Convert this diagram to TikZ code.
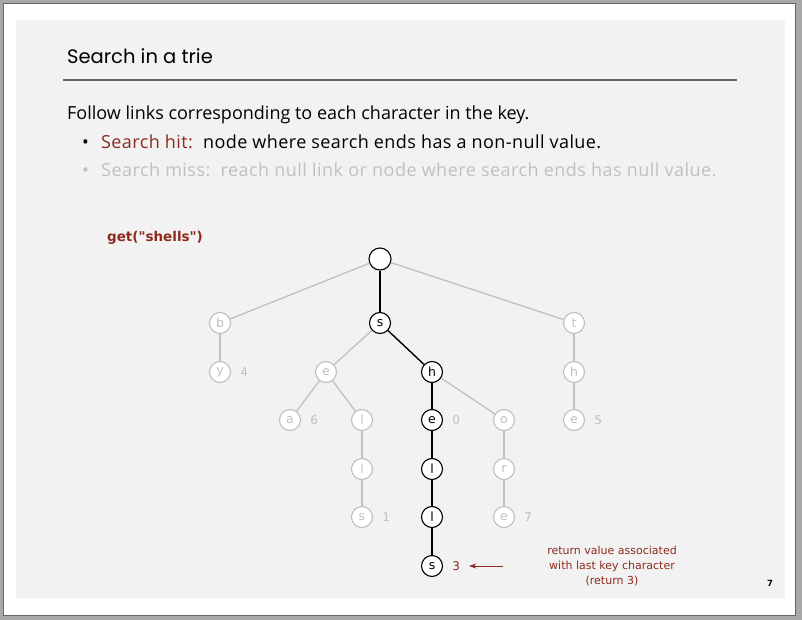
\documentclass[tikz,border=0pt]{standalone}
\usepackage{fontspec}
\setmainfont{Open Sans}
\newfontfamily\titlefont{Poppins}
\newfontfamily\triefont{DejaVu Sans}
\usetikzlibrary{positioning,arrows.meta}
\definecolor{hitred}{RGB}{140,42,30}
\definecolor{missgray}{RGB}{192,192,192}
\definecolor{panelgray}{RGB}{242,242,242}
\definecolor{framegray}{RGB}{168,168,168}

\begin{document}
\begin{tikzpicture}[x=1pt,y=-1pt,
    trie/.style={circle,draw=black,fill=white,line width=1.1pt,inner sep=0pt,minimum size=21pt,font=\triefont\fontsize{12.5}{12}\selectfont},
    miss/.style={trie,draw=missgray,text=missgray},
    missedge/.style={draw=missgray,line width=1.3pt},
    hitedge/.style={draw=black,line width=1.4pt},
    val/.style={inner sep=1pt,font=\triefont\fontsize{12}{12}\selectfont,text=missgray},
    body/.style={anchor=base west,inner sep=0pt,font=\fontsize{18}{20}\selectfont}]
    \fill[framegray] (0,0) rectangle (802,620);
    \filldraw[fill=white,draw=black!60] (3,3) rectangle (795,615);
    \fill[panelgray] (16,20) rectangle (785,598);

    \node[anchor=base west,inner sep=0pt,font=\titlefont\fontsize{19.5}{24}\selectfont] (title) at (67,64) {Search in a trie};
    \draw[black!60,line width=1.5pt] (63,80) -- (737,80);
    \node[body] (line1) at (67,120) {Follow links corresponding to each character in the key.};
    \node[body] (hitdot) at (82,149) {\textbullet};
    \node[body] (hit) at (101,149) {\addfontfeatures{LetterSpace=2.3}{\color{hitred}Search hit:}\ \ node where search ends has a non-null value.};
    \node[body,text=missgray] (missdot) at (82,177) {\textbullet};
    \node[body,text=missgray] (miss) at (101,177) {\addfontfeatures{LetterSpace=2.6}Search miss:\ \ reach null link or node where search ends has null value.};

    \node[font=\triefont\bfseries\fontsize{13.5}{14}\selectfont,text=hitred] (query) at (155,238) {get("shells")};

    \node[trie,minimum size=22pt] (root) at (380,259) {};
    \node[miss] (b) at (220,323) {b};
    \node[trie] (s) at (380,323) {s};
    \node[miss] (t) at (574,323) {t};
    \node[miss] (by) at (220,372) {y};
    \node[miss] (se) at (326,372) {e};
    \node[trie] (sh) at (432,372) {h};
    \node[miss] (th) at (574,372) {h};
    \node[miss] (sea) at (290,420) {a};
    \node[miss] (sel) at (362,420) {l};
    \node[trie] (she) at (432,420) {e};
    \node[miss] (sho) at (504,420) {o};
    \node[miss] (the) at (574,420) {e};
    \node[miss] (sell) at (362,469) {l};
    \node[trie] (shel) at (432,469) {l};
    \node[miss] (shor) at (504,469) {r};
    \node[miss] (sells) at (362,517) {s};
    \node[trie] (shell) at (432,517) {l};
    \node[miss] (shore) at (504,517) {e};
    \node[trie] (shells) at (432,566) {s};

    \foreach \u/\v in {root/b,root/t,b/by,s/se,t/th,se/sea,se/sel,sh/sho,th/the,sel/sell,sho/shor,sell/sells,shor/shore}
        \draw[missedge] (\u) -- (\v);
    \foreach \u/\v in {root/s,s/sh,sh/she,she/shel,shel/shell,shell/shells}
        \draw[hitedge] (\u) -- (\v);

    \foreach \n/\k in {by/4,sea/6,she/0,sells/1,shore/7,the/5}
        \node[val,right=8pt of \n] (v\n) {\k};
    \node[val,text=hitred,right=8pt of shells] (vshells) {3};

    \node[align=center,text=hitred,font=\triefont\fontsize{11}{15}\selectfont] (ret) at (612,566) {return value associated\\with last key character\\(return 3)};
    \coordinate (tail) at (503,566);
    \draw[hitred,line width=1pt,-{Stealth[length=7pt,width=5pt,inset=2pt]},shorten >=8pt] (tail) -- (vshells);

    \node[font=\triefont\bfseries\fontsize{8.5}{8}\selectfont] (page) at (770,583) {7};
\end{tikzpicture}
\end{document}
